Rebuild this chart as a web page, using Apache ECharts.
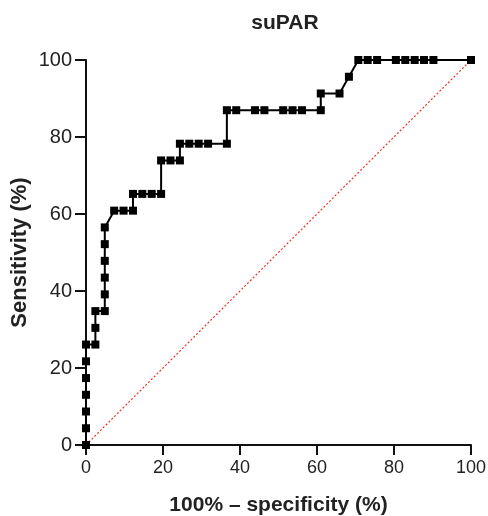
<!DOCTYPE html>
<html><head><meta charset="utf-8">
<script src="https://cdn.jsdelivr.net/npm/echarts@6/dist/echarts.min.js"></script>
<style>html,body{margin:0;padding:0;background:#fff}#c{width:488px;height:516px}</style>
</head><body><div id="c"></div>
<script>
const specificity = [0,0,0,0,0,0,0,2.44,2.44,2.44,4.88,4.88,4.88,4.88,4.88,4.88,7.32,9.76,12.2,12.2,14.63,17.07,19.51,19.51,21.95,24.39,24.39,26.83,29.27,31.71,36.59,36.59,39.02,43.9,46.34,51.22,53.66,56.1,60.98,60.98,65.85,68.29,70.73,73.17,75.61,80.49,82.93,85.37,87.8,90.24,100];
const sensitivity = [0,4.35,8.7,13.04,17.39,21.74,26.09,26.09,30.43,34.78,34.78,39.13,43.48,47.83,52.17,56.52,60.87,60.87,60.87,65.22,65.22,65.22,65.22,73.91,73.91,73.91,78.26,78.26,78.26,78.26,78.26,86.96,86.96,86.96,86.96,86.96,86.96,86.96,86.96,91.3,91.3,95.65,100,100,100,100,100,100,100,100,100];
const refX = [0,100];
const refY = [0,100];
const titleText = 'suPAR';
const xName = '100% – specificity (%)';
const yName = 'Sensitivity (%)';

const font = 'Liberation Sans, Arial, Helvetica, sans-serif';
const chart = echarts.init(document.getElementById('c'), null, {renderer:'canvas'});
function axis(extra){
  return Object.assign({
    type:'value', min:0, max:100, interval:20,
    axisLine:{show:true, onZero:false, lineStyle:{color:'#111', width:2}},
    splitLine:{show:false},
    nameLocation:'middle',
    nameMoveOverlap:false
  }, extra);
}
chart.setOption({
  animation:false,
  backgroundColor:'#fff',
  title:{text:titleText, left:280, textAlign:'center', top:8,
    textStyle:{fontSize:21, fontWeight:'bold', color:'#222', fontFamily:font}},
  grid:{left:86, right:17, top:60, bottom:71, containLabel:false, outerBoundsMode:'none'},
  xAxis:axis({name:xName, nameGap:50,
    axisTick:{show:true, length:10, lineStyle:{color:'#111', width:2}},
    axisLabel:{color:'#222', fontSize:18, fontFamily:font, margin:14},
    nameTextStyle:{color:'#222', fontSize:21, fontWeight:'bold', fontFamily:font}}),
  yAxis:axis({name:yName, nameGap:55,
    axisTick:{show:true, length:11, lineStyle:{color:'#111', width:2}},
    axisLabel:{color:'#222', fontSize:20, fontFamily:font, margin:14},
    nameTextStyle:{color:'#222', fontSize:22, fontWeight:'bold', fontFamily:font}}),
  series:[
    {type:'line', data:refX.map((x,i)=>[x,refY[i]]), symbol:'none',
     lineStyle:{color:'#f0302a', width:1.2, type:[2,2]}, z:1},
    {type:'line', data:specificity.map((x,i)=>[x,sensitivity[i]]), symbol:'rect', symbolSize:8,
     itemStyle:{color:'#000'}, lineStyle:{color:'#000', width:2}, z:2}
  ]
});
</script></body></html>
